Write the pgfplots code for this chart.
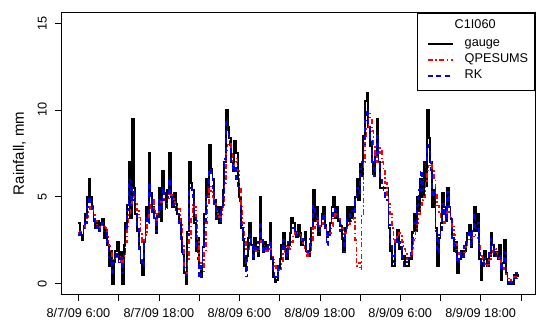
\documentclass[border=0pt]{standalone}
\usepackage{pgfplots}
\usepackage{pgfplotstable}
\pgfplotsset{compat=1.18}
\usepackage{fontspec}
\setmainfont{Liberation Sans}
\pgfplotstableread{
h g q r
0 3.5 2.9 2.8
0.25 2.8 3.0 2.9
0.5 2.5 3.0 3.0
0.75 3.3 3.2 3.2
1 4.0 3.4 3.5
1.25 5.0 3.8 4.4
1.5 6.0 4.2 5.0
1.75 5.0 4.4 4.6
2 4.4 4.5 4.2
2.25 3.6 4.0 3.8
2.5 3.2 3.6 3.3
2.75 3.6 3.4 3.2
3 3.0 3.2 3.0
3.25 3.5 3.3 3.4
3.5 3.7 3.4 3.5
3.75 2.6 3.3 3.0
4 3.1 3.2 3.0
4.25 2.2 2.7 2.4
4.5 1.0 2.2 1.5
4.75 1.9 1.8 1.2
5 0.0 1.4 0.5
5.25 1.3 1.4 1.2
5.5 1.9 1.5 1.8
5.75 2.4 1.6 1.6
6 1.4 1.6 1.2
6.25 1.8 1.3 1.5
6.5 0.0 1.0 0.6
6.75 2.2 1.6 1.8
7 3.5 2.4 3.0
7.25 4.5 3.2 4.2
7.5 7.0 4.0 6.0
7.75 3.8 4.5 4.5
8 9.5 5.0 5.5
8.25 5.5 4.8 4.8
8.5 4.0 4.6 4.0
8.75 3.0 4.2 3.2
9 2.1 3.8 2.0
9.25 1.2 3.0 1.4
9.5 0.5 2.4 1.0
9.75 2.5 2.5 2.4
10 4.4 2.8 3.8
10.25 3.6 3.5 3.5
10.5 7.5 4.2 5.8
10.75 5.2 4.6 4.8
11 4.4 4.8 4.0
11.25 3.8 4.2 3.6
11.5 2.9 3.6 3.0
11.75 4.0 4.0 3.8
12 5.5 4.4 4.8
12.25 3.6 4.7 4.2
12.5 6.5 5.0 5.5
12.75 5.2 4.8 4.8
13 4.4 4.6 4.2
13.25 5.4 4.9 5.0
13.5 7.5 5.2 6.0
13.75 5.0 5.1 5.0
14 4.4 5.0 4.5
14.25 5.2 4.7 4.6
14.5 4.6 4.5 4.2
14.75 4.0 4.4 4.0
15 3.7 4.3 3.5
15.25 2.6 3.4 2.4
15.5 1.8 2.2 1.5
15.75 0.6 1.0 0.8
16 0.0 0.6 0.5
16.25 3.0 1.4 2.8
16.5 7.0 2.6 5.5
16.75 5.8 3.8 5.5
17 5.4 4.6 5.0
17.25 3.5 4.4 3.8
17.5 1.9 3.6 2.0
17.75 2.6 2.4 1.4
18 1.0 1.2 0.3
18.25 0.4 0.8 1.0
18.5 2.1 0.7 2.0
18.75 4.0 1.8 3.6
19 6.0 3.5 5.0
19.25 5.0 4.6 5.6
19.5 8.0 5.6 6.6
19.75 6.6 5.3 6.2
20 6.0 5.0 5.5
20.25 4.8 4.6 4.5
20.5 3.7 4.2 3.8
20.75 4.4 4.0 3.6
21 3.5 3.8 3.6
21.25 4.4 4.0 4.2
21.5 5.4 4.4 5.0
21.75 7.0 5.8 7.2
22 10.0 7.5 9.5
22.25 9.0 8.0 8.6
22.5 8.4 8.2 7.8
22.75 7.0 7.5 7.0
23 6.5 6.8 6.5
23.25 8.2 7.0 6.8
23.5 7.5 7.2 6.0
23.75 6.0 6.5 5.6
24 5.0 5.5 4.5
24.25 3.2 4.5 3.4
24.5 2.5 3.5 2.6
24.75 1.0 2.6 1.4
25 1.6 2.0 0.4
25.25 2.6 2.0 2.0
25.5 3.5 2.2 2.8
25.75 2.2 2.1 2.2
26 1.4 2.0 1.6
26.25 2.6 1.9 2.2
26.5 2.1 1.8 2.0
26.75 1.6 2.0 2.4
27 5.0 2.5 3.5
27.25 2.5 2.4 2.6
27.5 1.8 2.2 1.8
27.75 2.4 2.0 2.0
28 1.9 1.8 2.2
28.25 2.2 1.9 2.0
28.5 3.5 2.0 2.5
28.75 1.4 1.7 1.5
29 0.4 1.4 0.8
29.25 0.1 1.0 0.3
29.5 0.2 0.8 0.4
29.75 0.9 0.7 1.0
30 1.4 0.8 1.5
30.25 2.2 1.2 2.0
30.5 2.9 1.8 2.5
30.75 2.0 2.0 2.0
31 1.4 2.2 1.6
31.25 2.2 2.1 2.4
31.5 2.9 2.0 3.0
31.75 3.8 2.4 3.2
32 3.5 2.8 3.0
32.25 3.0 2.9 3.2
32.5 2.7 2.9 2.8
32.75 3.4 2.8 2.9
33 2.9 2.8 2.6
33.25 2.2 2.5 2.6
33.5 2.5 2.2 2.5
33.75 3.0 1.9 2.4
34 1.9 1.6 1.8
34.25 1.6 1.7 2.0
34.5 2.1 1.9 2.6
34.75 3.2 2.5 3.2
35 5.4 3.2 4.5
35.25 3.6 3.4 4.0
35.5 4.4 3.6 3.8
35.75 2.8 3.5 3.0
36 3.3 3.3 3.2
36.25 4.0 3.4 3.6
36.5 4.4 3.5 4.0
36.75 3.4 3.2 3.2
37 2.7 2.8 2.2
37.25 3.0 2.8 2.8
37.5 3.5 2.9 3.3
37.75 4.4 3.3 3.8
38 5.0 3.8 4.3
38.25 3.8 4.0 4.2
38.5 4.4 4.0 4.0
38.75 3.6 3.8 3.6
39 3.3 3.5 3.0
39.25 2.6 3.2 2.4
39.5 1.8 2.8 1.8
39.75 3.2 2.9 2.8
40 4.4 3.2 3.8
40.25 3.6 3.4 3.8
40.5 4.4 3.5 4.0
40.75 3.8 3.7 4.2
41 4.4 3.8 4.0
41.25 5.0 2.5 4.8
41.5 6.0 1.0 5.5
41.75 4.8 1.2 5.2
42 6.9 0.8 6.6
42.25 6.2 4.0 7.0
42.5 8.5 7.0 8.0
42.75 10.5 8.4 9.4
43 11.0 9.0 10.0
43.25 9.0 9.8 9.0
43.5 7.9 9.5 8.2
43.75 7.0 8.8 7.0
44 6.3 8.0 6.2
44.25 7.5 7.4 7.2
44.5 9.5 7.0 8.5
44.75 7.0 7.5 7.0
45 5.5 7.8 6.0
45.25 5.5 7.0 5.6
45.5 5.5 6.5 5.4
45.75 5.5 5.8 5.0
46 5.5 5.0 4.8
46.25 3.2 4.6 3.4
46.5 1.9 4.0 2.3
46.75 1.0 3.2 1.6
47 1.0 2.4 1.2
47.25 2.4 2.5 2.2
47.5 3.1 2.8 2.6
47.75 2.0 2.9 2.4
48 2.1 2.8 2.2
48.25 1.4 2.4 1.5
48.5 1.6 2.0 1.0
48.75 1.0 1.7 1.2
49 1.0 1.4 1.5
49.25 1.5 1.4 1.4
49.5 1.4 1.6 1.8
49.75 3.0 2.0 2.6
50 4.0 2.5 3.5
50.25 3.0 3.0 3.4
50.5 5.0 3.5 4.5
50.75 4.2 4.0 5.4
51 6.0 4.5 6.5
51.25 5.0 4.8 5.4
51.5 7.0 5.0 6.0
51.75 5.6 5.8 7.0
52 10.0 6.5 8.0
52.25 8.4 6.8 7.6
52.5 7.0 7.0 6.5
52.75 4.4 6.5 5.0
53 5.4 6.0 5.5
53.25 3.2 5.2 3.0
53.5 1.0 4.5 1.8
53.75 2.6 4.1 2.8
54 3.5 3.8 3.0
54.25 5.2 3.6 4.6
54.5 4.4 3.5 4.0
54.75 3.6 3.8 3.6
55 5.5 4.2 5.3
55.25 4.4 4.0 4.4
55.5 3.7 3.8 3.8
55.75 2.6 3.3 2.6
56 1.9 2.8 2.0
56.25 2.4 2.3 1.8
56.5 0.6 1.8 1.2
56.75 1.4 1.7 1.6
57 1.9 1.6 1.8
57.25 1.5 1.7 1.6
57.5 1.9 1.8 2.2
57.75 2.4 2.1 2.4
58 2.9 2.5 2.8
58.25 3.4 2.6 3.0
58.5 2.1 2.6 2.2
58.75 3.0 2.7 3.2
59 4.4 2.8 4.0
59.25 3.0 2.7 3.2
59.5 4.0 2.6 3.5
59.75 1.4 2.2 1.8
60 0.2 1.6 1.0
60.25 1.2 1.4 1.0
60.5 1.9 1.2 1.5
60.75 1.4 1.1 1.3
61 1.0 1.0 1.2
61.25 1.6 1.4 1.8
61.5 2.9 1.8 2.6
61.75 2.2 1.9 2.2
62 1.6 2.0 1.8
62.25 1.8 1.8 1.6
62.5 1.4 1.5 1.5
62.75 2.2 1.4 1.6
63 0.2 1.2 0.8
63.25 1.2 1.0 1.2
63.5 2.5 0.8 1.8
63.75 0.6 0.5 0.6
64 0.0 0.3 0.1
64.25 0.0 0.2 0.1
64.5 0.0 0.2 0.1
64.75 0.0 0.3 0.1
65 0.5 0.4 0.3
65.25 0.5 0.4 0.6
65.5 0.4 0.3 0.5
}\raindata
\newcommand{\lblfont}{\fontsize{12.7}{15}\selectfont}
\begin{document}
\begin{tikzpicture}
\begin{axis}[
  scale only axis, width=473.3pt, height=281.3pt,
  xmin=-2.5, xmax=68.1, ymin=-0.6, ymax=15.6,
  xtick={0,6,...,66},
  xticklabels={8/7/09 6:00,,8/7/09 18:00,,8/8/09 6:00,,8/8/09 18:00,,8/9/09 6:00,,8/9/09 18:00,,},
  ytick={0,5,10,15},
  /pgf/number format/assume math mode=true,
  tick align=outside, tick pos=left, major tick length=6.5pt,
  tick style={black, line width=0.6pt},
  axis line style={black, line width=0.6pt},
  ticklabel style={font=\lblfont},
  xticklabel style={anchor=north, inner sep=0pt},
  yticklabel style={rotate=90, anchor=base, inner sep=0pt},
  xticklabel shift=7.5pt,
  yticklabel shift=8.5pt,
  ylabel={Rainfall, mm},
  every axis y label/.style={at={(axis description cs:0,0.5)}, xshift=-37.7pt, rotate=90, anchor=base, font=\fontsize{15}{18}\selectfont},
  legend cell align=left,
  legend style={at={(rel axis cs:1,1)}, anchor=north east, draw=black, line width=0.6pt, fill=white,
    inner xsep=0pt, inner ysep=6.9pt, row sep=0pt, column sep=0pt,
    nodes={inner sep=0pt, minimum height=16pt, text height=9pt, text depth=3pt, text width=70pt, align=left, font=\lblfont}},
  legend image code/.code={\path[draw=none] (0pt,0pt) -- (47pt,0pt); \draw[#1] (10pt,0pt) -- (35pt,0pt);},
]
\addlegendimage{empty legend}
\addlegendentry[text depth=7pt]{\hspace*{-10pt}C1I060}
\addplot[const plot, draw=black, line width=1.9pt] table[x=h, y=g] {\raindata};
\addlegendentry{gauge}
\addplot[const plot, draw=red, line width=1.5pt, dash pattern=on 5pt off 2.5pt on 1.5pt off 2.5pt] table[x=h, y=q] {\raindata};
\addlegendentry{QPESUMS}
\addplot[const plot, draw=blue, line width=1.5pt, dash pattern=on 5pt off 3.5pt] table[x=h, y=r] {\raindata};
\addlegendentry{RK}
\end{axis}
\pgfresetboundingbox
\path[use as bounding box] ([shift={(-61.7pt,-32pt)}]current axis.south west) rectangle ([shift={(15pt,12.7pt)}]current axis.north east);
\end{tikzpicture}
\end{document}
